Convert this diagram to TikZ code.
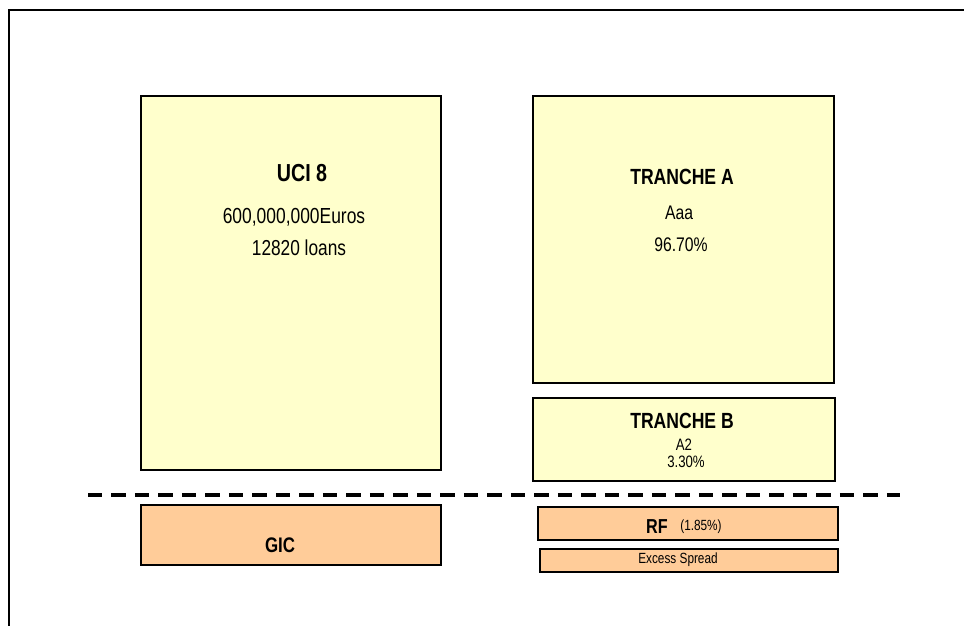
\documentclass[tikz,border=0pt]{standalone}
\usepackage{fontspec}
\setmainfont{Liberation Sans}[FakeStretch=0.8]
\usepackage{tikz}
\definecolor{POOL}{HTML}{FFFFCC}
\definecolor{RESV}{HTML}{FFCC99}

\tikzset{
  box/.style={draw, line width=1pt, inner sep=0pt, outer sep=0pt},
  head/.style={font=\fontsize{12.5}{15}\selectfont\bfseries, inner sep=0pt},
  info/.style={font=\fontsize{11.2}{13}\selectfont, inner sep=0pt},
  tiny/.style={font=\fontsize{8.4}{10}\selectfont, inner sep=0pt},
}

\begin{document}
\begin{tikzpicture}[x=0.02cm, y=-0.02cm]%
\useasboundingbox (0,0) rectangle (964,626);%
% frame
\coordinate (corner) at (9,10);%
\coordinate (topend) at (964,10);%
\coordinate (leftend) at (9,626);%
\draw[line width=1.3pt] (topend) -- (corner) -- (leftend);%
% collateral side
\node[box, fill=POOL, minimum width=6.00cm, minimum height=7.48cm] (uci) at (291,283) {};%
\node[head, font=\fontsize{14}{16}\selectfont\bfseries] (ucititle) at (302,173) {UCI 8};%
\node[info, font=\fontsize{12.4}{14}\selectfont] (ucisize) at (294,217) {600,000,000Euros};%
\node[info, font=\fontsize{12.3}{14}\selectfont] (uciloans) at (299,248) {12820 loans};%
\node[box, fill=RESV, minimum width=6.00cm, minimum height=1.20cm] (gic) at (291,535) {};%
\node[head, font=\fontsize{12}{14}\selectfont\bfseries] (gictitle) at (280,545) {GIC};%
% notes side
\node[box, fill=POOL, minimum width=6.02cm, minimum height=5.74cm] (tra) at (683.5,239.5) {};%
\node[head] (tratitle) at (682,177) {TRANCHE A};%
\node[info] (trarating) at (679,213) {Aaa};%
\node[info] (trashare) at (681,245) {96.70\%};%
\node[box, fill=POOL, minimum width=6.04cm, minimum height=1.66cm] (trb) at (684,439.5) {};%
\node[head] (trbtitle) at (682,421) {TRANCHE B};%
\node[info, font=\fontsize{9.4}{11}\selectfont] (trbrating) at (684,445) {A2};%
\node[info, font=\fontsize{9.4}{11}\selectfont] (trbshare) at (686,462) {3.30\%};%
\node[box, fill=RESV, minimum width=6.00cm, minimum height=0.66cm] (rf) at (688,523.5) {};%
\node[head, font=\fontsize{11.5}{13}\selectfont\bfseries] (rftitle) at (657,527) {RF};%
\node[tiny] (rfshare) at (701,527) {(1.85\%)};%
\node[box, fill=RESV, minimum width=5.96cm, minimum height=0.46cm] (xs) at (689,560.5) {};%
\node[tiny] (xstitle) at (678,560) {Excess Spread};%
% separation line
\coordinate (sepleft) at (88,495);%
\coordinate (sepright) at (900,495);%
\draw[line width=1.9pt, dash pattern=on 0.29cm off 0.18cm] (sepleft) -- (sepright);%
\end{tikzpicture}
\end{document}
